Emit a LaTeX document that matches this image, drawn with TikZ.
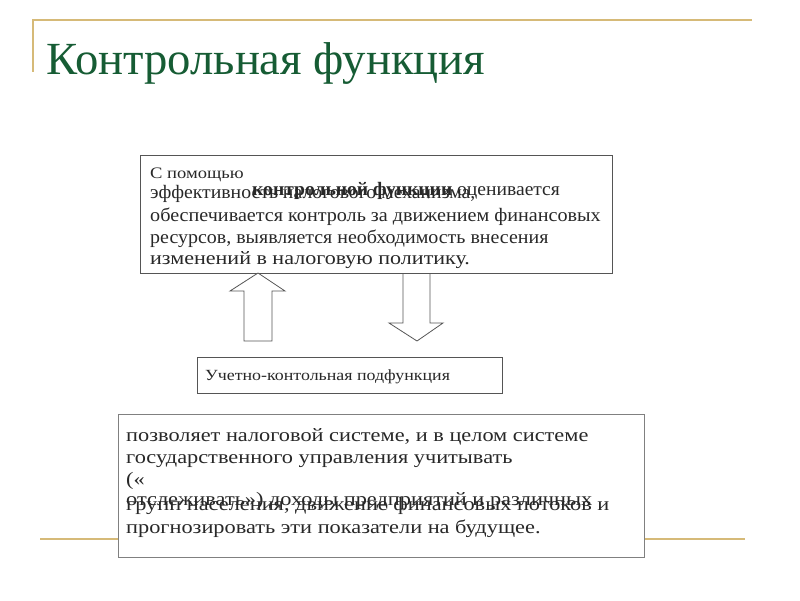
\documentclass[tikz,border=0pt]{standalone}
\usepackage{fontspec}
\setmainfont{Liberation Serif}
\definecolor{gold}{RGB}{214,186,120}
\definecolor{titlegreen}{RGB}{22,92,52}
\definecolor{boxgray}{RGB}{85,85,85}
\definecolor{txt}{RGB}{40,40,40}
\newcommand\hstretch[2]{\scalebox{#1}[1]{#2}}
\tikzset{
  goldline/.style={draw=gold, line width=2.2pt},
  tbox/.style={draw=boxgray, line width=1pt, fill=white},
  body/.style={anchor=base west, inner sep=0pt, text=txt, font=\fontsize{19}{19}\selectfont},
  small/.style={anchor=base west, inner sep=0pt, text=txt, font=\fontsize{16}{16}\selectfont},
  blockarrow/.style={draw=boxgray, line width=0.8pt, fill=white},
}
\begin{document}
\begin{tikzpicture}[x=1pt,y=-1pt]
\useasboundingbox (0,0) rectangle (800,600);
\fill[white] (0,0) rectangle (800,600);
% decorative lines
\draw[goldline] (33,20) -- (752,20);
\draw[goldline] (33,19) -- (33,72);
\draw[goldline] (40,539) -- (745,539);
% title
\node[anchor=base west, inner sep=0pt, text=titlegreen, font=\fontsize{46}{46}\selectfont] (title) at (46,74) {\hstretch{1.015}{Контрольная функция}};
% box 1
\draw[tbox] (140,155) rectangle (612,273);
\node[small] (b1l1) at (150,178) {\hstretch{1.16}{С помощью}};
\node[body] (b1l2) at (150,198) {\hstretch{1.04}{эффективность налогового механизма,}};
\node[body] (b1l2b) at (252,195) {\hstretch{1.03}{\textbf{контрольной функции} оценивается}};
\node[body] (b1l3) at (150,221) {\hstretch{1.06}{обеспечивается контроль за движением финансовых}};
\node[body] (b1l4) at (150,243) {\hstretch{1.05}{ресурсов, выявляется необходимость внесения}};
\node[body] (b1l5) at (150,264) {\hstretch{1.16}{изменений в налоговую политику.}};
% up arrow
\draw[blockarrow] (244,341) -- (244,291) -- (230,291) -- (258,273) -- (285,291) -- (272,291) -- (272,341) -- cycle;
% down arrow
\draw[blockarrow] (403,274) -- (403,323) -- (389,323) -- (417,341) -- (443,323) -- (430,323) -- (430,274);
% box 2
\draw[tbox] (197,357) rectangle (502,393);
\node[anchor=base west, inner sep=0pt, text=txt, font=\fontsize{15.5}{15.5}\selectfont] (b2) at (205,380) {\hstretch{1.155}{Учетно-контольная подфункция}};
% box 3
\draw[tbox, draw=gray] (118,414) rectangle (644,557);
\node[body] (b3l1) at (126,441) {\hstretch{1.175}{позволяет налоговой системе, и в целом системе}};
\node[body] (b3l2) at (126,463) {\hstretch{1.175}{государственного управления учитывать}};
\node[body] (b3l3) at (126,485) {\hstretch{1.175}{(«}};
\node[body] (b3l4) at (126,505) {\hstretch{1.175}{отслеживать») доходы предприятий и различных}};
\node[body] (b3l4b) at (126,510) {\hstretch{1.175}{групп населения, движение финансовых потоков и}};
\node[body] (b3l5) at (126,533) {\hstretch{1.175}{прогнозировать эти показатели на будущее.}};
\end{tikzpicture}
\end{document}
